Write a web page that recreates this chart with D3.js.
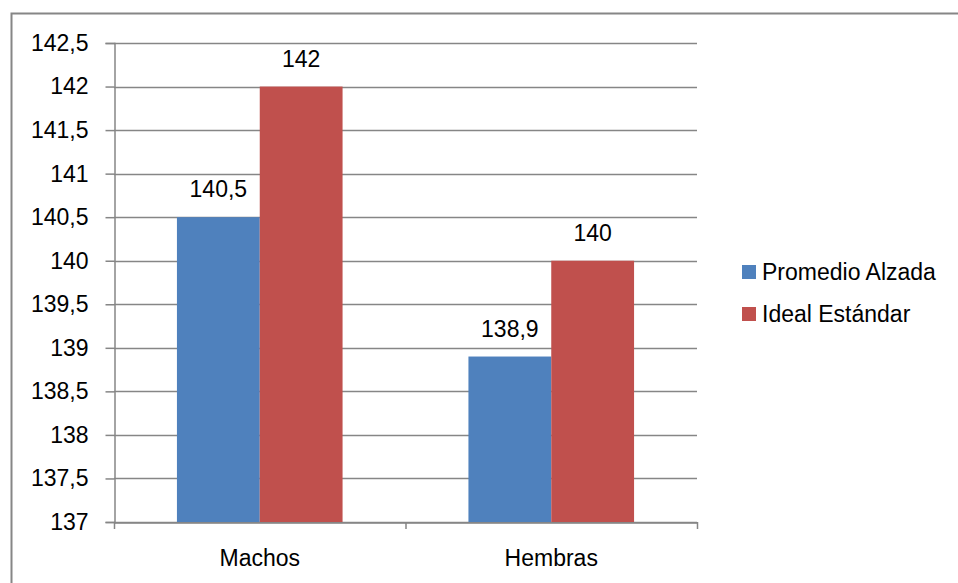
<html>
<head>
  <meta charset="utf-8" />
  <script src="https://cdn.jsdelivr.net/npm/d3@7"></script>
  <style>
    body { margin: 0; background: white; }
    text { font-family: "Liberation Sans", Arial, sans-serif; font-size: 23px; fill: #000; }
  </style>
</head>
<body>
<div id="chart"></div>
<script>
// data
var categories = ["Machos", "Hembras"];
var series = ["Promedio Alzada", "Ideal Estándar"];
var promedio = [140.5, 138.9];
var ideal = [142, 140];
var yTicks = [137, 137.5, 138, 138.5, 139, 139.5, 140, 140.5, 141, 141.5, 142, 142.5];
var colors = ["#4f81bd", "#c0504d"];

var width = 958, height = 583;
var fmt = function(v) { return String(v).replace(".", ","); };

var svg = d3.select("#chart").append("svg")
    .attr("width", width)
    .attr("height", height);

// outer frame
svg.append("rect")
    .attr("x", 11.5).attr("y", 13.5)
    .attr("width", 960).attr("height", 600)
    .attr("fill", "none")
    .attr("stroke", "#868686")
    .attr("stroke-width", 2);

var pLeft = 114, pRight = 697, pTop = 43, pBottom = 522;

var x = d3.scaleBand().domain(categories).range([pLeft, pRight]);
var xs = d3.scaleBand().domain(series).range([0, x.bandwidth()]).paddingOuter(0.76).paddingInner(0);
var y = d3.scaleLinear().domain([137, 142.5]).range([pBottom, pTop]);

// gridlines
svg.selectAll(".grid").data(yTicks).enter().append("line")
    .attr("x1", pLeft).attr("x2", pRight)
    .attr("y1", function(d) { return Math.round(y(d)) + 0.5; })
    .attr("y2", function(d) { return Math.round(y(d)) + 0.5; })
    .attr("stroke", "#868686")
    .attr("stroke-width", 1.5);

// y axis
var yAxis = svg.append("g")
    .attr("transform", "translate(" + (pLeft + 0.5) + ",0)")
    .call(d3.axisLeft(y).tickValues(yTicks).tickSize(9).tickPadding(17).tickFormat(fmt));
yAxis.selectAll("line, path").attr("stroke", "#868686").attr("stroke-width", 1.5);
yAxis.selectAll("text").style("font-size", "23px").style("font-family", "Liberation Sans, Arial, sans-serif").attr("fill", "#000");

// bars
var rows = categories.map(function(c, i) { return { cat: c, vals: [promedio[i], ideal[i]] }; });
var groups = svg.selectAll(".grp").data(rows).enter().append("g")
    .attr("transform", function(d) { return "translate(" + x(d.cat) + ",0)"; });

groups.selectAll("rect").data(function(d) { return d.vals.map(function(v, j) { return { s: series[j], v: v, j: j }; }); })
  .enter().append("rect")
    .attr("x", function(d) { return xs(d.s); })
    .attr("width", xs.bandwidth())
    .attr("y", function(d) { return y(d.v); })
    .attr("height", function(d) { return pBottom - y(d.v); })
    .attr("fill", function(d) { return colors[d.j]; });

groups.selectAll(".lbl").data(function(d) { return d.vals.map(function(v, j) { return { s: series[j], v: v }; }); })
  .enter().append("text")
    .attr("x", function(d) { return xs(d.s) + xs.bandwidth() / 2; })
    .attr("y", function(d) { return y(d.v) - 20; })
    .attr("text-anchor", "middle")
    .text(function(d) { return fmt(d.v); });

// x axis
var xAxis = svg.append("g")
    .attr("transform", "translate(0," + (pBottom + 0.5) + ")")
    .call(d3.axisBottom(x).tickSize(0).tickPadding(27));
xAxis.select("path").attr("stroke", "#868686").attr("stroke-width", 1.5);
xAxis.selectAll("text").style("font-size", "23px").style("font-family", "Liberation Sans, Arial, sans-serif").attr("fill", "#000");
svg.selectAll(".xtick").data([pLeft, x("Hembras"), pRight]).enter().append("line")
    .attr("x1", function(d) { return d + 0.5; }).attr("x2", function(d) { return d + 0.5; })
    .attr("y1", pBottom).attr("y2", pBottom + 7)
    .attr("stroke", "#868686").attr("stroke-width", 1.5);

// legend
var legend = svg.selectAll(".leg").data(series).enter().append("g")
    .attr("transform", function(d, i) { return "translate(742," + (265 + i * 42) + ")"; });
legend.append("rect").attr("width", 14).attr("height", 14)
    .attr("fill", function(d, i) { return colors[i]; });
legend.append("text").attr("x", 20).attr("y", 15).text(function(d) { return d; });
</script>
</body>
</html>
